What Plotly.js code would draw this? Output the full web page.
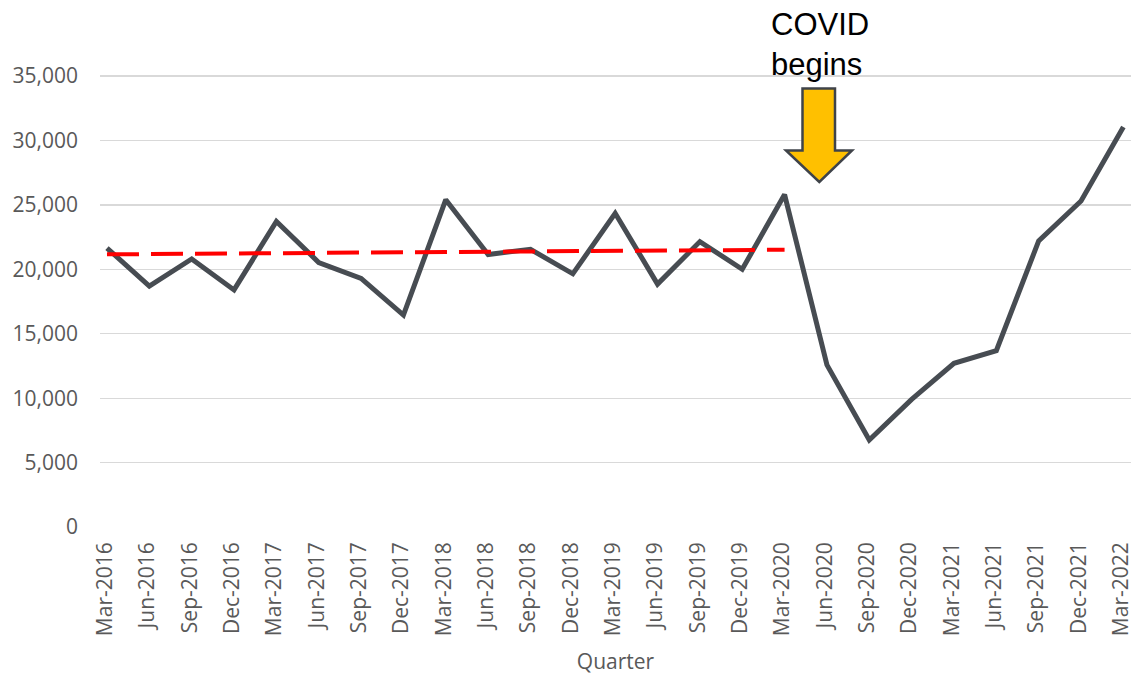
<!DOCTYPE html>
<html>
<head>
<meta charset="utf-8">
<script src="https://cdn.plot.ly/plotly-3.0.1.min.js"></script>
<style>
  html, body { margin: 0; padding: 0; background: #ffffff; }
  #chart { width: 1133px; height: 675px; }
</style>
</head>
<body>
<div id="chart"></div>
<script>
// ---- Data ----
const quarters = [
  'Mar-2016','Jun-2016','Sep-2016','Dec-2016',
  'Mar-2017','Jun-2017','Sep-2017','Dec-2017',
  'Mar-2018','Jun-2018','Sep-2018','Dec-2018',
  'Mar-2019','Jun-2019','Sep-2019','Dec-2019',
  'Mar-2020','Jun-2020','Sep-2020','Dec-2020',
  'Mar-2021','Jun-2021','Sep-2021','Dec-2021',
  'Mar-2022'
];
const values = [
  21650, 18700, 20800, 18400,
  23720, 20530, 19300, 16450,
  25400, 21150, 21550, 19650,
  24350, 18850, 22150, 20000,
  25800, 12580, 6750, 9900,
  12700, 13680, 22200, 25300,
  31050
];
// pre-COVID linear trend (endpoints)
const trendQuarters = ['Mar-2016', 'Mar-2020'];
const trendValues = [21160, 21520];

const yTickVals = [0, 5000, 10000, 15000, 20000, 25000, 30000, 35000];
const yTickText = ['0', '5,000', '10,000', '15,000', '20,000', '25,000', '30,000', '35,000'];

// ---- Layout geometry ----
const W = 1133, H = 675;
const M = {l: 100, r: 2, t: 0, b: 148};
const PW = W - M.l - M.r, PH = H - M.t - M.b;
const px2paperX = p => (p - M.l) / PW;
const py2paperY = p => (H - M.b - p) / PH;

// Arrow outline (pixel positions, converted to paper coords)
const arrowPts = [
  [802.5, 88.5], [835, 88.5], [835, 150.5], [852, 150.5],
  [819.3, 182], [786, 150.5], [802.5, 150.5]
];
const arrowPath = 'M ' + arrowPts.map(p => px2paperX(p[0]).toFixed(5) + ',' + py2paperY(p[1]).toFixed(5)).join(' L ') + ' Z';

const tickFont = {family: '"Open Sans", Lato, sans-serif', size: 21, color: '#595959'};

const traces = [
  {
    x: quarters, y: values, type: 'scatter', mode: 'lines',
    line: {color: '#474c52', width: 5}, hoverinfo: 'skip', showlegend: false
  },
  {
    x: trendQuarters, y: trendValues, type: 'scatter', mode: 'lines',
    line: {color: '#ff0000', width: 4, dash: '32px,12px'}, hoverinfo: 'skip', showlegend: false
  }
];

const layout = {
  width: W, height: H,
  margin: M,
  paper_bgcolor: '#ffffff', plot_bgcolor: '#ffffff',
  showlegend: false,
  xaxis: {
    type: 'category',
    range: [-0.165, 24.18],
    showgrid: false, zeroline: false, showline: false,
    ticks: '', tickangle: -90,
    tickfont: tickFont,
    ticklabelstandoff: 10,
    ticklabelshift: -2,
    title: {text: 'Quarter', font: tickFont, standoff: 19},
    automargin: false
  },
  yaxis: {
    range: [0, 40900],
    tickvals: yTickVals, ticktext: yTickText,
    showgrid: true, gridcolor: '#d9d9d9', gridwidth: 1.3,
    zeroline: false, showline: false,
    ticks: '',
    tickfont: tickFont,
    ticklabelstandoff: 21,
    automargin: false
  },
  shapes: [
    {
      type: 'path', xref: 'paper', yref: 'paper',
      path: arrowPath,
      fillcolor: '#ffc000',
      line: {color: '#3f4349', width: 2.5},
      layer: 'above'
    }
  ],
  annotations: [
    {
      xref: 'paper', yref: 'paper',
      x: px2paperX(819.5), y: py2paperY(44),
      xanchor: 'center', yanchor: 'middle',
      text: 'COVID<br>begins',
      showarrow: false,
      align: 'left',
      font: {family: '"Liberation Sans", Arial, sans-serif', size: 31, color: '#000000'}
    }
  ]
};

Plotly.newPlot('chart', traces, layout, {staticPlot: true, displayModeBar: false});
</script>
</body>
</html>
